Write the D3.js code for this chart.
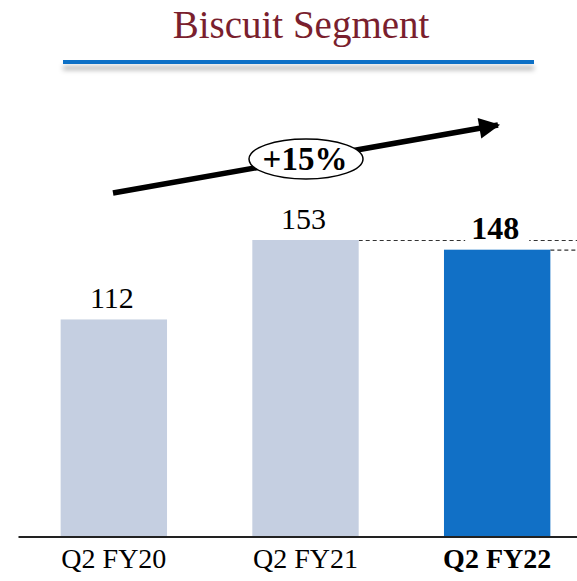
<!DOCTYPE html>
<html>
<head>
<meta charset="utf-8">
<script src="https://cdn.jsdelivr.net/npm/d3@7"></script>
<style>
  html, body { margin: 0; padding: 0; background: #fff; }
  svg { display: block; }
</style>
</head>
<body>
<svg id="chart"></svg>
<script>
// chart data
const categories = ['Q2 FY20', 'Q2 FY21', 'Q2 FY22'];
const values = [112, 153, 148];
const barColors = ['#c5cfe1', '#c5cfe1', '#1170c6'];
const growthLabel = '+15%';
const title = 'Biscuit Segment';

let width = 577, height = 581;
let svg = d3.select('#chart')
            .attr('width', width)
            .attr('height', height);

let defs = svg.append('defs');
let shadow = defs.append('filter')
                .attr('id', 'shadow')
                .attr('x', '-5%').attr('y', '-100%')
                .attr('width', '110%').attr('height', '500%');
shadow.append('feDropShadow')
    .attr('dx', 0).attr('dy', 6)
    .attr('stdDeviation', 2.5)
    .attr('flood-color', '#000')
    .attr('flood-opacity', 0.3);

defs.append('marker')
    .attr('id', 'head')
    .attr('viewBox', '0 0 10 10')
    .attr('refX', 9).attr('refY', 5)
    .attr('markerWidth', 4.2).attr('markerHeight', 3.8)
    .attr('markerUnits', 'strokeWidth')
    .attr('orient', 'auto')
  .append('path')
    .attr('d', 'M0,0 L10,5 L0,10 Z')
    .attr('fill', '#000');

// title + rule
svg.append('text')
    .attr('x', 301).attr('y', 38)
    .attr('text-anchor', 'middle')
    .style('font-family', '"Liberation Serif", serif')
    .style('font-size', '39px')
    .attr('fill', '#7a1f2e')
    .text(title);

svg.append('rect')
    .attr('x', 63).attr('y', 60)
    .attr('width', 471).attr('height', 4)
    .attr('fill', '#1170c6')
    .attr('filter', 'url(#shadow)');

// scales
let x = d3.scaleBand()
          .domain(categories)
          .range([18, 593])
          .paddingInner(0.445)
          .paddingOuter(0.2225);

let y = d3.scaleLinear()
          .domain([0, 153])
          .range([536.5, 240]);

// dashed reference lines
let last = categories.length - 1;
svg.append('line')
    .attr('x1', x(categories[1]) + x.bandwidth()).attr('x2', width)
    .attr('y1', y(values[1]) + 0.5).attr('y2', y(values[1]) + 0.5)
    .attr('stroke', '#333').attr('stroke-width', 1.2)
    .attr('stroke-dasharray', '4,3');
svg.append('line')
    .attr('x1', x(categories[last]) + x.bandwidth()).attr('x2', width)
    .attr('y1', y(values[last]) + 0.5).attr('y2', y(values[last]) + 0.5)
    .attr('stroke', '#333').attr('stroke-width', 1.2)
    .attr('stroke-dasharray', '4,3');

// bars
svg.selectAll('.bar')
    .data(values)
    .enter()
    .append('rect')
    .classed('bar', true)
    .attr('x', (d, i) => x(categories[i]))
    .attr('y', d => y(d))
    .attr('width', x.bandwidth())
    .attr('height', d => y(0) - y(d))
    .attr('fill', (d, i) => barColors[i]);

// value labels
let labels = svg.selectAll('.val')
    .data(values)
    .enter()
    .append('g')
    .classed('val', true);
labels.filter((d, i) => i == last)
    .append('rect')
    .attr('x', (d, i) => x(categories[last]) + x.bandwidth() / 2 - 32)
    .attr('y', d => y(d) - 36)
    .attr('width', 64).attr('height', 30)
    .attr('fill', '#fff');
labels.append('text')
    .attr('x', (d, i) => x(categories[i]) + x.bandwidth() / 2 - 2)
    .attr('y', d => y(d) - 11)
    .attr('text-anchor', 'middle')
    .style('font-family', '"Liberation Serif", serif')
    .style('font-size', (d, i) => i == last ? '32px' : '30px')
    .style('font-weight', (d, i) => i == last ? 'bold' : 'normal')
    .attr('fill', '#000')
    .text(d => d);

// axis
let axis = svg.append('g')
    .attr('transform', `translate(0,${y(0)})`)
    .call(d3.axisBottom(x).tickSize(0).tickSizeOuter(0).tickPadding(12));
axis.select('.domain')
    .attr('stroke', '#222')
    .attr('stroke-width', 2);
axis.selectAll('.tick text')
    .attr('dy', '0.71em')
    .style('font-family', '"Liberation Serif", serif')
    .style('font-size', '28px')
    .style('font-weight', (d, i) => i == last ? 'bold' : 'normal')
    .attr('fill', '#000');

// growth arrow + bubble
svg.append('line')
    .attr('x1', 113).attr('y1', 193)
    .attr('x2', 498).attr('y2', 125)
    .attr('stroke', '#000')
    .attr('stroke-width', 5.5)
    .attr('marker-end', 'url(#head)');

svg.append('ellipse')
    .attr('cx', 306).attr('cy', 159)
    .attr('rx', 57).attr('ry', 20)
    .attr('fill', '#fff')
    .attr('stroke', '#000')
    .attr('stroke-width', 1.5);

svg.append('text')
    .attr('x', 305).attr('y', 170)
    .attr('text-anchor', 'middle')
    .style('font-family', '"Liberation Serif", serif')
    .style('font-size', '33px')
    .style('font-weight', 'bold')
    .attr('fill', '#000')
    .text(growthLabel);
</script>
</body>
</html>
